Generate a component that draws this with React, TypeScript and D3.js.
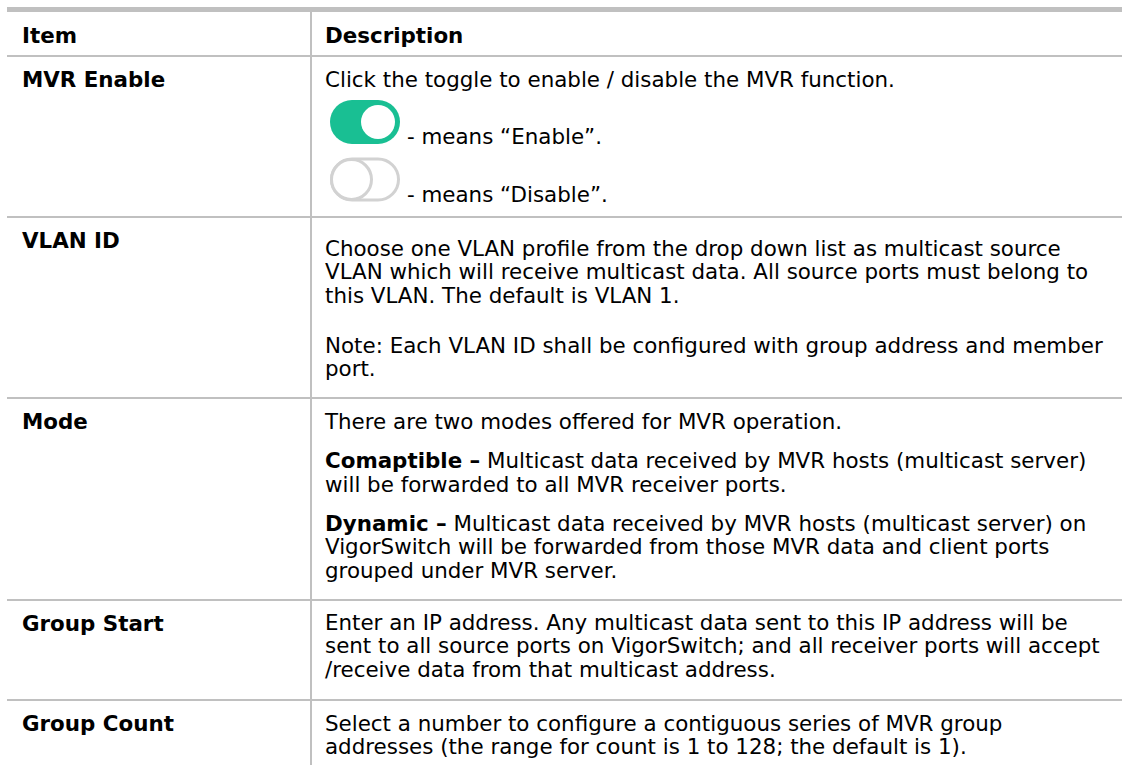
import React from 'react';
import * as d3 from 'd3';

// table content
const headers = ['Item', 'Description'];
const items = ['MVR Enable', 'VLAN ID', 'Mode', 'Group Start', 'Group Count'];

type Para = { lines: string[]; lead?: string; toggle?: 'on' | 'off' };

const mvrEnableDesc: Para[] = [
  { lines: ['Click the toggle to enable / disable the MVR function.'] },
  { lines: ['- means “Enable”.'], toggle: 'on' },
  { lines: ['- means “Disable”.'], toggle: 'off' },
];
const vlanIdDesc: Para[] = [
  {
    lines: [
      'Choose one VLAN profile from the drop down list as multicast source',
      'VLAN which will receive multicast data. All source ports must belong to',
      'this VLAN. The default is VLAN 1.',
    ],
  },
  { lines: ['Note: Each VLAN ID shall be configured with group address and member', 'port.'] },
];
const modeDesc: Para[] = [
  { lines: ['There are two modes offered for MVR operation.'] },
  {
    lead: 'Comaptible –',
    lines: [' Multicast data received by MVR hosts (multicast server)', 'will be forwarded to all MVR receiver ports.'],
  },
  {
    lead: 'Dynamic –',
    lines: [
      ' Multicast data received by MVR hosts (multicast server) on',
      'VigorSwitch will be forwarded from those MVR data and client ports',
      'grouped under MVR server.',
    ],
  },
];
const groupStartDesc: Para[] = [
  {
    lines: [
      'Enter an IP address. Any multicast data sent to this IP address will be',
      'sent to all source ports on VigorSwitch; and all receiver ports will accept',
      '/receive data from that multicast address.',
    ],
  },
];
const groupCountDesc: Para[] = [
  {
    lines: [
      'Select a number to configure a contiguous series of MVR group',
      'addresses (the range for count is 1 to 128; the default is 1).',
    ],
  },
];
const descriptions = [mvrEnableDesc, vlanIdDesc, modeDesc, groupStartDesc, groupCountDesc];

// layout
const W = 1123;
const H = 765;
const LEFT = 7;
const COL_X = 310;
const PAD_X = 15;
const FONT = 'DejaVu Sans';
const FS = 21.4;
const LH = 23.3;
const GRID = '#c0c0c0';
const GREEN = '#19bf93';
const TOGGLE_W = 70;
const TOGGLE_H = 44;
const TOGGLE_STEP = 57.5;

const descTop = [30.5, 39, 31, 30, 31];
const paraGap = [0, 27, 16, 0, 0];
const padBottom = [15.5, 21.8, 22.5, 23.4, 20];
const labelTop = 30.5;

function layoutRow(paras: Para[], i: number) {
  let y = descTop[i];
  const out: { y: number; para: Para; line: string; first: boolean }[] = [];
  paras.forEach((p, pi) => {
    if (pi > 0) y += p.toggle ? TOGGLE_STEP : LH + paraGap[i];
    p.lines.forEach((line, li) => {
      if (li > 0) y += LH;
      out.push({ y, para: p, line, first: li === 0 });
    });
  });
  return { lines: out, height: y + padBottom[i] };
}

const Toggle = ({ on, y }: { on: boolean; y: number }) => {
  const x = COL_X + 20;
  const top = y - TOGGLE_H;
  if (on) {
    return (
      <g>
        <rect x={x} y={top} width={TOGGLE_W} height={TOGGLE_H} rx={TOGGLE_H / 2} fill={GREEN} />
        <circle cx={x + TOGGLE_W - 22} cy={top + TOGGLE_H / 2} r={17} fill="#fff" />
      </g>
    );
  }
  return (
    <g fill="#fff" stroke="#d2d2d2" strokeWidth={3}>
      <rect x={x + 1.5} y={top + 1.5} width={TOGGLE_W - 3} height={TOGGLE_H - 3} rx={(TOGGLE_H - 3) / 2} />
      <circle cx={x + 21.5} cy={top + TOGGLE_H / 2} r={20} />
    </g>
  );
};

export default function App() {
  const headerBottom = 56;
  const rows = descriptions.map((d, i) => layoutRow(d, i));
  const tops = [headerBottom, ...d3.cumsum(rows.map((r) => r.height)).map((h) => h + headerBottom)];

  return (
    <svg
      width={W}
      height={H}
      style={{ position: 'absolute', left: 0, top: 0, background: '#fff' }}
      fontFamily={FONT}
      fontSize={FS}
    >
      <rect width={W} height={H} fill="#fff" />
      {/* grid */}
      <rect x={LEFT} y={7} width={W - 1 - LEFT} height={5} fill={GRID} />
      <line x1={COL_X + 1} x2={COL_X + 1} y1={12} y2={H} stroke={GRID} strokeWidth={2} />
      {tops.slice(0, items.length).map((t, i) => (
        <line key={i} x1={LEFT} x2={W - 1} y1={t} y2={t} stroke={GRID} strokeWidth={2} />
      ))}
      {/* header */}
      <g fontWeight="bold">
        <text x={LEFT + PAD_X} y={42.7}>{headers[0]}</text>
        <text x={COL_X + PAD_X} y={42.7}>{headers[1]}</text>
      </g>
      {/* rows */}
      {items.map((item, i) => (
        <g key={item} transform={`translate(0,${tops[i]})`}>
          <text x={LEFT + PAD_X} y={labelTop} fontWeight="bold">{item}</text>
          {rows[i].lines.map((l, j) => {
            const tx = l.para.toggle ? COL_X + 20 + TOGGLE_W + 7 : COL_X + PAD_X;
            return (
              <g key={j}>
                {l.para.toggle && l.first && <Toggle on={l.para.toggle === 'on'} y={l.y} />}
                <text x={tx} y={l.y} style={{ whiteSpace: 'pre' }}>
                  {l.first && l.para.lead && <tspan fontWeight="bold">{l.para.lead}</tspan>}
                  <tspan>{l.line}</tspan>
                </text>
              </g>
            );
          })}
        </g>
      ))}
    </svg>
  );
}
